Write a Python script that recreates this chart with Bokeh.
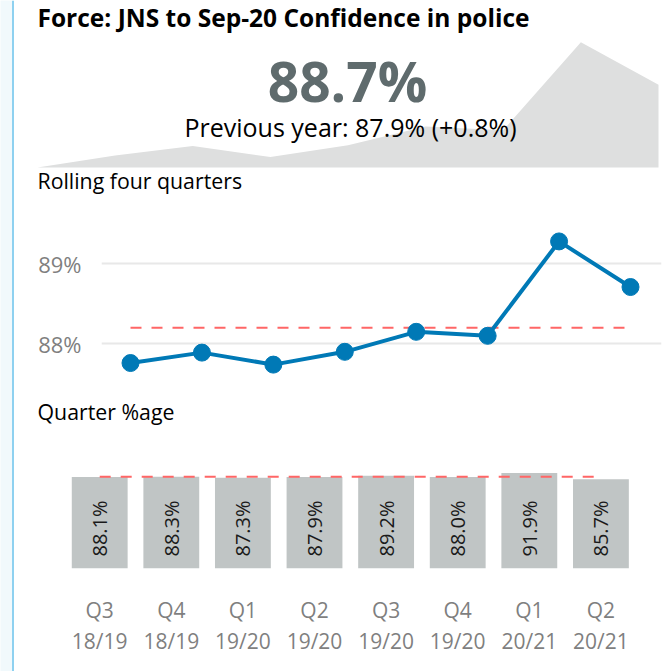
from math import pi
from bokeh.plotting import figure
from bokeh.layouts import column, row
from bokeh.models import Range1d, FixedTicker, LinearAxis, Label, Span
from bokeh.core.properties import value
from bokeh.embed import file_html
from bokeh.resources import INLINE

# ---------------- data ----------------
quarters = ["Q3", "Q4", "Q1", "Q2", "Q3", "Q4", "Q1", "Q2"]
years = ["18/19", "18/19", "19/20", "19/20", "19/20", "19/20", "20/21", "20/21"]
rolling_pct = [87.76, 87.89, 87.74, 87.90, 88.15, 88.10, 89.28, 88.71]
quarter_pct = [88.1, 88.3, 87.3, 87.9, 89.2, 88.0, 91.9, 85.7]
spark_prior = [87.60]          # rolling value for the quarter before the first shown
average_pct = 88.2
y_ticks = [88, 89]

FONT = "Open Sans"
W = 651

xs = list(range(len(quarters)))
spark_vals = spark_prior + rolling_pct
spark_x = list(range(len(spark_vals)))
spark_base = min(spark_vals)

latest = rolling_pct[-1]
prev_year = rolling_pct[-5]
diff = latest - prev_year


def clean(fig):
    fig.outline_line_color = None
    fig.background_fill_color = "white"
    fig.border_fill_color = "white"
    fig.xgrid.visible = False
    fig.ygrid.visible = False
    if "frame_align" in fig.properties():
        fig.frame_align = False


def label(fig, x, y, text, size, **kw):
    fig.add_layout(Label(x=x, y=y, x_units="screen", y_units="screen", text=text,
                         text_font=FONT, text_font_size=size,
                         text_baseline="alphabetic", **kw))


# ---------------- header with sparkline ----------------
h = figure(width=W, height=195, x_range=Range1d(-0.296, 8.09),
           y_range=Range1d(87.2247, 89.839), min_border=0,
           x_axis_location=None, y_axis_location=None,
           output_backend="svg", toolbar_location=None)
clean(h)
h.varea(x=spark_x, y1=spark_base, y2=spark_vals, fill_color="#DEDFDF")
label(h, 23, 178, "Force: JNS to Sep-20 Confidence in police", "24.5px",
      text_font_style="bold", text_color="#000000")
label(h, 333, 115, f"{latest:.1f}%", "55px", text_align="center",
      text_font_style="bold", text_color="#5F6B6D")
label(h, 336, 69, f"Previous year: {prev_year:.1f}% ({diff:+.1f}%)", "25px",
      text_align="center", text_color="#000000")
label(h, 23, 15, "Rolling four quarters", "21.3px", text_color="#000000")

# ---------------- rolling line chart ----------------
l = figure(width=W, height=200, x_range=Range1d(-0.406, 7.434),
           y_range=Range1d(87.354, 89.854), min_border_left=87,
           min_border_right=4, min_border_top=0, min_border_bottom=0,
           x_axis_location=None, output_backend="svg", toolbar_location=None)
clean(l)
l.yaxis.ticker = FixedTicker(ticks=y_ticks)
l.yaxis.major_label_overrides = {t: f"{t}%" for t in y_ticks}
l.yaxis.axis_line_color = None
l.yaxis.major_tick_line_color = None
l.yaxis.minor_tick_line_color = None
l.yaxis.major_label_standoff = 14
l.yaxis.major_label_text_font = FONT
l.yaxis.major_label_text_font_size = "22px"
l.yaxis.major_label_text_color = "#7F7F7F"
l.ygrid.visible = True
l.ygrid.ticker = FixedTicker(ticks=y_ticks)
l.ygrid.grid_line_color = "#E8E8E8"
l.ygrid.grid_line_width = 2
l.line(x=[xs[0], xs[-1]], y=[average_pct, average_pct], line_color="#FF6666",
       line_width=2, line_dash="11 10")
l.line(x=xs, y=rolling_pct, line_color="#0079B6", line_width=4)
l.scatter(x=xs, y=rolling_pct, size=17, fill_color="#0079B6", line_color="#0079B6")

# ---------------- quarterly bar chart ----------------
b = figure(width=W, height=276, x_range=Range1d(-1.19, 7.902),
           y_range=Range1d(0, 166.35), min_border_left=0, min_border_right=0,
           min_border_top=0, min_border_bottom=103, y_axis_location=None,
           output_backend="svg", toolbar_location=None)
clean(b)
b.vbar(x=xs, top=quarter_pct, width=0.78, fill_color="#C0C5C5", line_color=None)
b.line(x=[xs[0], xs[-1]], y=[average_pct, average_pct], line_color="#FF6666",
       line_width=2, line_dash="11 10")
b.text(x=xs, y=0, text=[f"{v:.1f}%" for v in quarter_pct], angle=pi / 2,
       text_align="left", text_baseline="middle", y_offset=-12,
       text_font=value(FONT), text_font_size="20px", text_color="#1A1A1A")


def style_x(ax, labels, standoff):
    ax.ticker = FixedTicker(ticks=xs)
    ax.major_label_overrides = {i: t for i, t in zip(xs, labels)}
    ax.axis_line_color = None
    ax.major_tick_line_color = None
    ax.minor_tick_line_color = None
    ax.major_tick_out = 0
    ax.major_tick_in = 0
    ax.major_label_standoff = standoff
    ax.major_label_text_font = FONT
    ax.major_label_text_font_size = "21px"
    ax.major_label_text_color = "#7F7F7F"


style_x(b.xaxis[0], quarters, 27)
ax2 = LinearAxis()
style_x(ax2, years, 0)
b.add_layout(ax2, "below")
label(b, 23, 157, "Quarter %age", "21.3px", text_color="#000000")

# ---------------- left stripe ----------------
s = figure(width=14, height=671, x_range=Range1d(0, 14), y_range=Range1d(0, 1),
           min_border=0, x_axis_location=None, y_axis_location=None,
           output_backend="svg", toolbar_location=None)
clean(s)
s.background_fill_color = "#F1F9FC"
s.border_fill_color = "#F1F9FC"
s.add_layout(Span(location=12.5, dimension="height", line_color="#8ED1F0", line_width=2))

p = row(s, column(h, l, b))
open("out.html", "w").write(file_html(p, INLINE))
